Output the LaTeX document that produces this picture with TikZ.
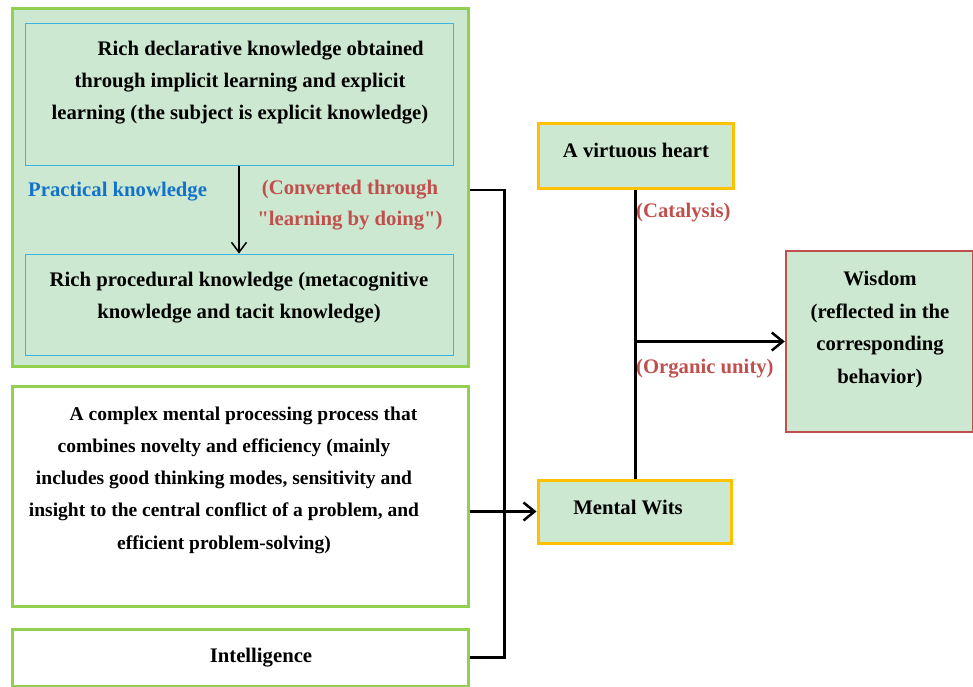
\documentclass[tikz,border=0pt]{standalone}
\usepackage{fontspec}
\setmainfont{Liberation Serif}
\usetikzlibrary{positioning}
\usetikzlibrary{arrows.meta}

\definecolor{boxfill}{RGB}{205,232,208}
\definecolor{leafgreen}{RGB}{146,208,80}
\definecolor{skyline}{RGB}{60,180,225}
\definecolor{goldline}{RGB}{255,192,0}
\definecolor{rosered}{RGB}{192,80,77}
\definecolor{deepblue}{RGB}{20,115,200}

\begin{document}
\begin{tikzpicture}[x=1pt, y=-1pt,
        every node/.style={font=\bfseries\fontsize{20.7}{32}\selectfont},
        panel/.style={draw, inner sep=0pt},
        greenpanel/.style={panel, leafgreen, line width=3pt},
        skypanel/.style={panel, skyline, fill=boxfill, line width=1pt},
        goldpanel/.style={panel, goldline, fill=boxfill, line width=3pt},
        redpanel/.style={panel, rosered, fill=boxfill, line width=2.5pt},
        bodytext/.style={align=center, inner sep=0pt},
        redlabel/.style={text=rosered, align=center, inner sep=0pt},
        link/.style={line width=2.5pt, >={Straight Barb[length=11pt, width=18pt]}}]
        \useasboundingbox (0,0) rectangle (973,686);

        % Bloque de conocimiento (fondo verde)
        \node[greenpanel, fill=boxfill, minimum width=456, minimum height=358] (outer) at (240,187) {};
        \node[skypanel, minimum width=428, minimum height=142] (decl) at (239,94) {};
        \node[skypanel, minimum width=428, minimum height=101] (proc) at (239,304.5) {};

        \node[bodytext] (decltxt) at (240,83) {\hspace*{2em}Rich declarative knowledge obtained\\
            through implicit learning and explicit\\
            learning (the subject is explicit knowledge)};
        \node[bodytext] (proctxt) at (239,298) {Rich procedural knowledge (metacognitive\\
            knowledge and tacit knowledge)};

        % Conversión
        \draw[line width=1.5pt, -{Straight Barb[length=10pt, width=15pt]}] (decl.south) -- (proc.north);
        \node[text=deepblue, anchor=west, inner sep=0pt] (practical) at (28,192) {Practical knowledge};
        \node[redlabel, font=\bfseries\fontsize{20.7}{31}\selectfont] (converted) at (350,205.5) {(Converted through\\
            \textquotedbl learning by doing\textquotedbl)};

        % Procesos mentales e inteligencia
        \node[greenpanel, fill=white, minimum width=456, minimum height=220] (complex) at (240,496) {};
        \node[bodytext, font=\bfseries\fontsize{19.5}{32.2}\selectfont] (complextxt) at (224,480) {\hspace*{2em}A complex mental processing process that\\
            combines novelty and efficiency (mainly\\
            includes good thinking modes, sensitivity and\\
            insight to the central conflict of a problem, and\\
            efficient problem-solving)};
        \node[greenpanel, fill=white, minimum width=456, minimum height=57] (intel) at (240,657.5) {};
        \node[bodytext] (inteltxt) at (261,658) {Intelligence};

        % Corazón, ingenio y sabiduría
        \node[goldpanel, minimum width=195, minimum height=65] (heart) at (635.5,155.5) {};
        \node[bodytext] (hearttxt) at (636,150) {A virtuous heart};
        \node[goldpanel, minimum width=193, minimum height=63] (wits) at (634.5,511.5) {};
        \node[bodytext] (witstxt) at (628,507) {Mental Wits};
        \node[redpanel, minimum width=187, minimum height=181] (wisdom) at (879.5,341.5) {};
        \node[bodytext, font=\bfseries\fontsize{20.7}{32.7}\selectfont] (wisdomtxt) at (880,329.5) {Wisdom\\
            (reflected in the\\
            corresponding\\
            behavior)};

        % Conectores
        \draw[link] ([yshift=-3pt]outer.east) -- ++(35,0) |- (intel.east);
        \draw[link, ->] (complex.east |- wits.west) -- (wits.west);
        \draw[link] (heart.south) -- (heart.south |- wits.north);
        \draw[link, ->] (heart.south |- wisdom.west) -- (wisdom.west);
        \node[redlabel, anchor=west] (catalysis) at (636,213) {(Catalysis)};
        \node[redlabel, anchor=west] (organic) at (636,368.5) {(Organic unity)};

    \end{tikzpicture}
\end{document}
